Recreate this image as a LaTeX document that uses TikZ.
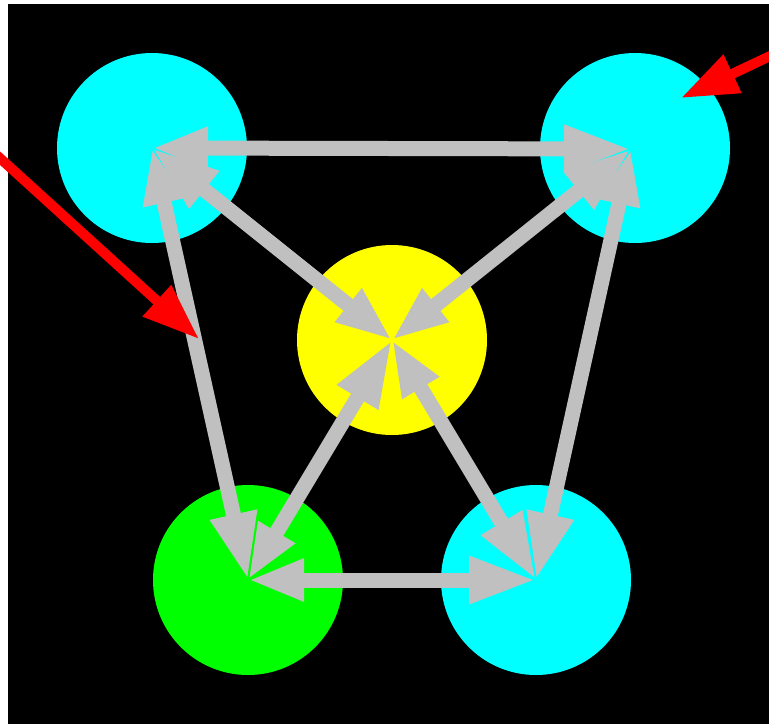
\documentclass[tikz,border=0pt]{standalone}
\usetikzlibrary{arrows.meta}
\definecolor{cy}{RGB}{0,255,255}
\definecolor{yl}{RGB}{255,255,0}
\definecolor{gr}{RGB}{0,255,0}
\definecolor{sv}{RGB}{192,192,192}
\definecolor{rd}{RGB}{255,0,0}
\tikzset{
  ball/.style={circle,inner sep=0pt,minimum size=190pt,fill=#1},
  link/.style={draw=sv,line width=15pt},
  sm/.tip={Triangle[length=56pt,width=39pt]},
  bg/.tip={Triangle[length=67pt,width=44pt]},
  pointer/.style={draw=rd,line width=10pt,-{Triangle[length=57pt,width=40pt]}}
}
\begin{document}
\begin{tikzpicture}[x=1pt,y=-1pt]
\useasboundingbox (0,0) rectangle (769,724);
\clip (0,0) rectangle (769,724);
\fill[black] (7.5,3.5) rectangle (769,724);
\node[ball=cy] (tl) at (152,148) {};
\node[ball=cy] (tr) at (635,148) {};
\node[ball=yl] (c) at (392,340) {};
\node[ball=gr] (bl) at (248,580) {};
\node[ball=cy] (br) at (536,580) {};
\coordinate (trh) at (631,149);
\draw[link,sm-bg] (tl.center) -- (trh);
\draw[link,bg-sm] (tl.center) -- (c.center);
\draw[link,bg-sm] (trh) -- (c.center);
\draw[link,sm-bg] (tl.center) -- (bl.center);
\draw[link,sm-bg] (trh) -- (br.center);
\draw[link,bg-sm] (c.center) -- (bl.center);
\draw[link,sm-bg] (c.center) -- (br.center);
\draw[link,sm-bg] (bl.center) -- (br.center);
\coordinate (p1s) at (-20,140);
\coordinate (p1e) at (199,339);
\coordinate (p2s) at (800,42);
\coordinate (p2e) at (681,98);
\draw[pointer] (p1s) -- (p1e);
\draw[pointer] (p2s) -- (p2e);
\end{tikzpicture}
\end{document}
